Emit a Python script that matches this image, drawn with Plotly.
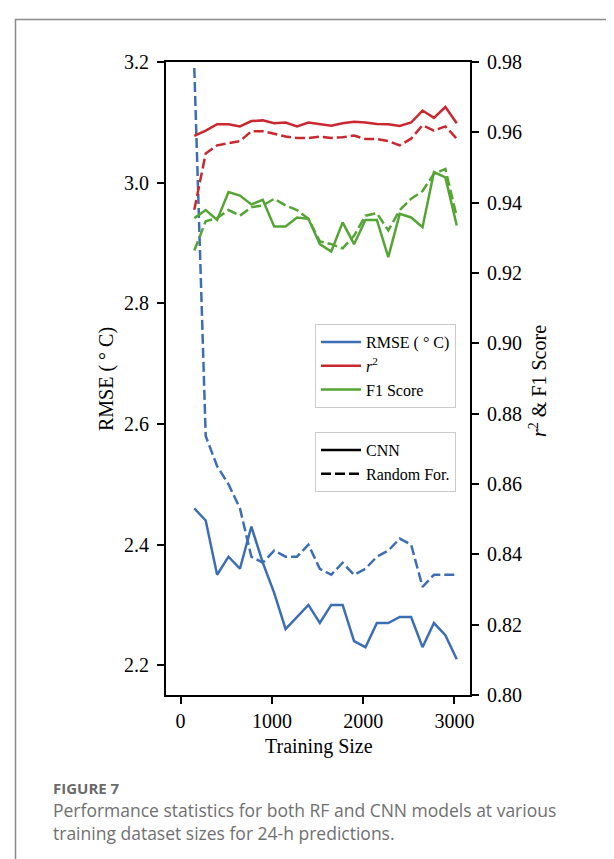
import plotly.graph_objects as go

# ---------------- data ----------------
training_size = [150, 275, 400, 525, 650, 775, 900, 1025, 1150, 1275, 1400, 1525,
                 1650, 1775, 1900, 2025, 2150, 2275, 2400, 2525, 2650, 2775, 2900, 3025]

rmse_cnn = [2.46, 2.44, 2.35, 2.38, 2.36, 2.43, 2.37, 2.32, 2.26, 2.28, 2.30, 2.27,
            2.30, 2.30, 2.24, 2.23, 2.27, 2.27, 2.28, 2.28, 2.23, 2.27, 2.25, 2.21]
rmse_rf = [3.19, 2.58, 2.53, 2.50, 2.46, 2.38, 2.37, 2.39, 2.38, 2.38, 2.40, 2.36,
           2.35, 2.37, 2.35, 2.36, 2.38, 2.39, 2.41, 2.40, 2.33, 2.35, 2.35, 2.35]

r2_cnn = [0.9590, 0.9605, 0.9623, 0.9623, 0.9617, 0.9632, 0.9634, 0.9626, 0.9628, 0.9617,
          0.9628, 0.9623, 0.9619, 0.9626, 0.9630, 0.9628, 0.9624, 0.9623, 0.9618, 0.9628,
          0.9662, 0.9641, 0.9672, 0.9626]
r2_rf = [0.9380, 0.9540, 0.9563, 0.9569, 0.9575, 0.9603, 0.9603, 0.9596, 0.9588, 0.9584,
         0.9584, 0.9588, 0.9584, 0.9586, 0.9591, 0.9581, 0.9581, 0.9575, 0.9563, 0.9582,
         0.9620, 0.9605, 0.9617, 0.9582]

f1_cnn = [0.9356, 0.9379, 0.9351, 0.9430, 0.9420, 0.9395, 0.9408, 0.9332, 0.9332, 0.9358,
          0.9354, 0.9282, 0.9261, 0.9344, 0.9282, 0.9351, 0.9351, 0.9245, 0.9368, 0.9358,
          0.9330, 0.9487, 0.9472, 0.9335]
f1_rf = [0.9264, 0.9347, 0.9356, 0.9379, 0.9363, 0.9387, 0.9392, 0.9411, 0.9392, 0.9379,
         0.9354, 0.9290, 0.9282, 0.9270, 0.9306, 0.9363, 0.9370, 0.9321, 0.9379, 0.9411,
         0.9433, 0.9482, 0.9496, 0.9360]

x_ticks = [0, 1000, 2000, 3000]
metric_names = ["RMSE ( ° C)", "<i>r</i><sup>2</sup>", "F1 Score"]
model_names = ["CNN", "Random For."]

# ---------------- style ----------------
BLUE = "#3C6EB4"
RED = "#C8282E"
GREEN = "#55A534"
LW = 2.5
DASH = "10px,4px"
SERIF = "Liberation Serif, Times New Roman, serif"
SANS = "Open Sans, Noto Sans, sans-serif"

fig = go.Figure()

series = [
    (rmse_cnn, BLUE, "solid", "y"),
    (rmse_rf, BLUE, DASH, "y"),
    (r2_cnn, RED, "solid", "y2"),
    (r2_rf, RED, DASH, "y2"),
    (f1_cnn, GREEN, "solid", "y2"),
    (f1_rf, GREEN, DASH, "y2"),
]
for vals, col, dash, ax in series:
    fig.add_trace(go.Scatter(x=training_size, y=vals, mode="lines", yaxis=ax,
                             line=dict(color=col, width=LW, dash=dash),
                             showlegend=False, hoverinfo="skip", cliponaxis=True))

# legend entries (metrics)
for name, col in zip(metric_names, [BLUE, RED, GREEN]):
    fig.add_trace(go.Scatter(x=[None], y=[None], mode="lines", name=name,
                             line=dict(color=col, width=LW), legend="legend"))
# legend entries (models)
for name, dash in zip(model_names, ["solid", DASH]):
    fig.add_trace(go.Scatter(x=[None], y=[None], mode="lines", name=name,
                             line=dict(color="black", width=LW, dash=dash), legend="legend2"))

L, R, T, B = 158, 462, 54, 687
W, H = 614, 859
pw, ph = R - L, B - T


def px(xp):
    return (xp - L) / pw


def py(yp):
    return (B - yp) / ph


axis_common = dict(showgrid=False, zeroline=False, showline=True, linecolor="black",
                   linewidth=2, ticks="outside", ticklen=7, tickwidth=2, tickcolor="black",
                   tickfont=dict(family=SERIF, size=20, color="black"))

legend_common = dict(xanchor="left", yanchor="top",
                     bgcolor="rgba(255,255,255,0.85)", bordercolor="#cccccc", borderwidth=1,
                     font=dict(family=SERIF, size=16, color="black"), itemwidth=40)

fig.update_layout(
    width=W, height=H, autosize=False,
    margin=dict(l=L, r=W - R, t=T, b=H - B),
    paper_bgcolor="white", plot_bgcolor="white",
    xaxis=dict(range=[-160, 3170], tickvals=x_ticks, mirror=True, **axis_common),
    yaxis=dict(range=[2.1507, 3.2], dtick=0.2, tickformat=".1f", ticklabelstandoff=4,
               **axis_common),
    yaxis2=dict(range=[0.80, 0.98], dtick=0.02, tickformat=".2f", overlaying="y",
                side="right", ticklabelstandoff=4, **axis_common),
    legend=dict(x=px(307), y=py(316), **legend_common),
    legend2=dict(x=px(307), y=py(424), **legend_common),
    shapes=[dict(type="rect", xref="paper", yref="paper",
                 x0=px(7.5), y0=py(11.5), x1=px(700), y1=py(950),
                 line=dict(color="#8a8a8a", width=1.5), fillcolor="rgba(0,0,0,0)",
                 layer="below")],
)

annotations = [
    dict(text="Training Size", x=px(311), y=py(738), font=dict(family=SERIF, size=20, color="black")),
    dict(text="RMSE ( ° C)", x=px(98), y=py(371), textangle=-90,
         font=dict(family=SERIF, size=20, color="black")),
    dict(text="<i>r</i><sup>2</sup> &amp; F1 Score", x=px(530), y=py(373), textangle=-90,
         font=dict(family=SERIF, size=20, color="black")),
]
for a in annotations:
    a.update(xref="paper", yref="paper", xanchor="center", yanchor="middle", showarrow=False)
    fig.add_annotation(**a)

fig.add_annotation(text="<b>FIGURE 7</b>", x=px(42.5), y=py(779.5), xref="paper", yref="paper",
                   xanchor="left", yanchor="middle", showarrow=False,
                   font=dict(family=SANS, size=15, color="#6a6a6a"))
fig.add_annotation(text="Performance statistics for both RF and CNN models at various<br>"
                        "training dataset sizes for 24-h predictions.",
                   x=px(42.5), y=py(813), xref="paper", yref="paper",
                   xanchor="left", yanchor="middle", align="left", showarrow=False,
                   font=dict(family=SANS, size=17.5, color="#707070"))

fig.write_html("out.html")
